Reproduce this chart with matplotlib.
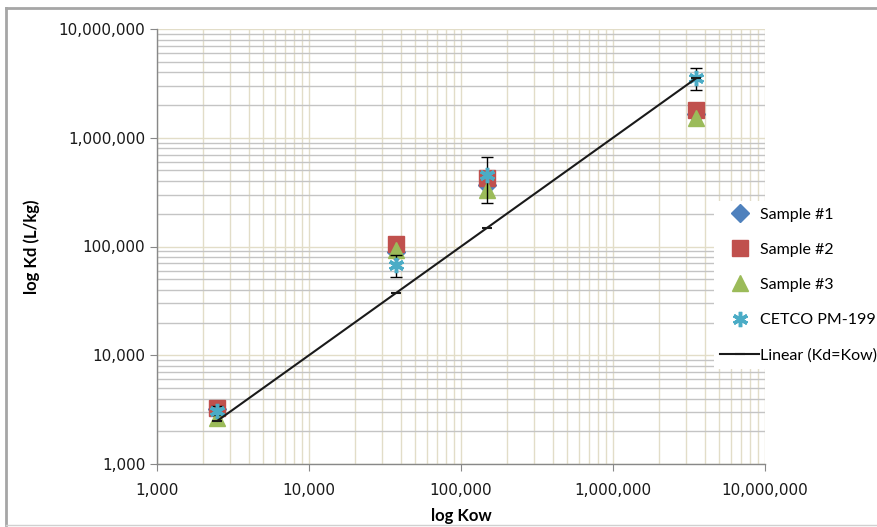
import matplotlib
matplotlib.use("Agg")
import matplotlib.pyplot as plt
from matplotlib.ticker import FuncFormatter, LogLocator, NullFormatter
from matplotlib.lines import Line2D

# Data
kow = [2500, 37300, 148000, 3520000]
sample1 = [3200, 89000, 370000, 1650000]
sample2 = [3250, 105000, 426000, 1800000]
sample3 = [2650, 93000, 331000, 1520000]
cetco = [3100, 67600, 454000, 3540000]
cetco_err = [300, 15200, 205000, 820000]
linear_x = [2500, 37300, 148000, 3520000]
linear_y = [2500, 37300, 148000, 3520000]

fig = plt.figure(figsize=(8.78, 5.27), dpi=100)
ax = fig.add_axes([157/878, 1-464/527, (765-157)/878, (464-29)/527])

# outer border (left, top, bottom)
bc = '#A6A6A6'
fig.lines.append(Line2D([6/878, 6/878], [2/527, 1-8/527], transform=fig.transFigure, color=bc, linewidth=2.0))
fig.lines.append(Line2D([6/878, 1.0], [1-8/527, 1-8/527], transform=fig.transFigure, color=bc, linewidth=2.0))
fig.lines.append(Line2D([6/878, 1.0], [2/527, 2/527], transform=fig.transFigure, color='#D0D0D0', linewidth=1.0))

ax.set_xscale('log')
ax.set_yscale('log')
ax.set_xlim(1e3, 1e7)
ax.set_ylim(1e3, 1e7)

ax.plot(kow, sample1, linestyle='none', marker='D', markersize=9, color='#4F81BD', label='Sample #1', zorder=3)
ax.plot(kow, sample2, linestyle='none', marker='s', markersize=11, color='#C0504D', label='Sample #2', zorder=4)
ax.plot(kow, sample3, linestyle='none', marker='^', markersize=11, color='#9BBB59', label='Sample #3', zorder=5)
ax.errorbar(kow, cetco, yerr=cetco_err, linestyle='none', ecolor='black', elinewidth=1, capsize=4,
            capthick=1, zorder=6)
ax.plot(kow, cetco, linestyle='none', marker=(6, 2, 0), markersize=11, markeredgewidth=2.5,
        color='#4BACC6', label='CETCO PM-199', zorder=7)
ax.plot(linear_x, linear_y, color='#1a1a1a', linewidth=1.5, marker='_', markersize=7,
        markeredgewidth=1.5, label='Linear (Kd=Kow)', zorder=8)

fmt = FuncFormatter(lambda v, p: f"{int(round(v)):,}")
ax.xaxis.set_major_formatter(fmt)
ax.yaxis.set_major_formatter(fmt)
ax.xaxis.set_major_locator(LogLocator(base=10, numticks=10))
ax.yaxis.set_major_locator(LogLocator(base=10, numticks=10))
ax.xaxis.set_minor_locator(LogLocator(base=10, subs=range(2, 10), numticks=20))
ax.yaxis.set_minor_locator(LogLocator(base=10, subs=range(2, 10), numticks=20))
ax.xaxis.set_minor_formatter(NullFormatter())
ax.yaxis.set_minor_formatter(NullFormatter())

ax.grid(which='both', axis='x', color='#E2DDC8', linewidth=1.0)
ax.grid(which='minor', axis='y', color='#C4C4C4', linewidth=1.0)
ax.grid(which='major', axis='y', color='#E2DDC8', linewidth=1.0)
ax.set_axisbelow(True)

for s in ['top', 'right']:
    ax.spines[s].set_visible(False)
for s in ['left', 'bottom']:
    ax.spines[s].set_color('#888888')
    ax.spines[s].set_linewidth(1.0)
ax.tick_params(which='major', direction='out', length=5, color='#888888', labelsize=11, labelcolor='#1a1a1a')
ax.tick_params(which='minor', length=0)
ax.tick_params(axis='x', pad=9)

ax.set_xlabel('log Kow', fontsize=12, fontweight='bold', family='Lato', labelpad=7)
ax.set_ylabel('log Kd (L/kg)', fontsize=12, fontweight='bold', family='Lato', labelpad=13)

leg = fig.legend(loc='upper left', bbox_to_anchor=(706/878, 1-193/527), frameon=True,
                 fancybox=False, edgecolor='none', facecolor='white', framealpha=1,
                 prop={'family': 'Lato', 'size': 11.5}, labelspacing=1.32,
                 handlelength=2.4, handletextpad=0.1, borderpad=0.4)

fig.savefig('out.png', dpi=100)
